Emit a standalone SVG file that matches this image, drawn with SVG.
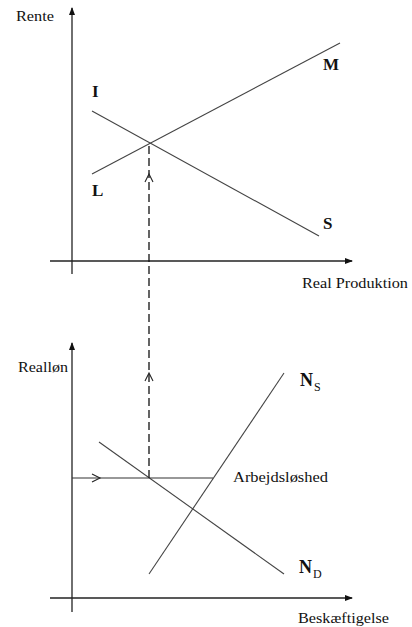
<svg xmlns="http://www.w3.org/2000/svg" width="412" height="627" viewBox="0 0 412 627">
<style>
.ax{stroke:#222;stroke-width:1.3;fill:none}
.cv{stroke:#444;stroke-width:1.1;fill:none}
.ds{stroke:#111;stroke-width:1.3;stroke-dasharray:8,4;fill:none}
.lb{font-family:"Liberation Serif",serif;font-size:15px;fill:#111}
.bl{font-family:"Liberation Serif",serif;font-size:17px;font-weight:bold;fill:#111}
.nn{font-family:"Liberation Serif",serif;font-size:18px;font-weight:bold;fill:#111}
.sb{font-family:"Liberation Serif",serif;font-size:12px;fill:#111}
.ch{stroke:#222;stroke-width:1.1;fill:none}
</style>
<defs>
<marker id="ah" markerWidth="8" markerHeight="8" refX="7" refY="4" orient="auto" markerUnits="userSpaceOnUse">
<path d="M0,1 L8,4 L0,7 Z" fill="#111"/>
</marker>
</defs>
<g id="axes-top">
<line class="ax" x1="72" y1="274" x2="72" y2="8" marker-end="url(#ah)"/>
<line class="ax" x1="50" y1="261" x2="352" y2="261" marker-end="url(#ah)"/>
<text class="lb" x="16" y="21" textLength="38" lengthAdjust="spacingAndGlyphs">Rente</text>
<text class="lb" x="302" y="288" textLength="106" lengthAdjust="spacingAndGlyphs">Real Produktion</text>
</g>
<g id="curve-IS">
<line class="cv" x1="92" y1="111" x2="319" y2="236"/>
<text class="bl" x="92" y="97">I</text>
<text class="bl" x="323" y="229">S</text>
</g>
<g id="curve-LM">
<line class="cv" x1="92" y1="174" x2="340" y2="43"/>
<text class="bl" x="92" y="196">L</text>
<text class="bl" x="323" y="70">M</text>
</g>
<g id="axes-bottom">
<line class="ax" x1="72" y1="612" x2="72" y2="343" marker-end="url(#ah)"/>
<line class="ax" x1="50" y1="598" x2="352" y2="598" marker-end="url(#ah)"/>
<text class="lb" x="18" y="372" textLength="50" lengthAdjust="spacingAndGlyphs">Realløn</text>
<text class="lb" x="298" y="623" textLength="91" lengthAdjust="spacingAndGlyphs">Beskæftigelse</text>
</g>
<g id="curve-ND">
<line class="cv" x1="99" y1="442" x2="284" y2="574"/>
<text class="nn" x="299" y="573">N</text>
<text class="sb" x="313" y="578">D</text>
</g>
<g id="curve-NS">
<line class="cv" x1="284" y1="373" x2="149" y2="574"/>
<text class="nn" x="300" y="386">N</text>
<text class="sb" x="314" y="391">S</text>
</g>
<g id="connectors">
<line class="ds" x1="149" y1="478" x2="149" y2="143"/>
<path class="ch" d="M145,182 L149,174 L153,182"/>
<path class="ch" d="M145,381 L149,373 L153,381"/>
<line class="cv" x1="72" y1="478" x2="213" y2="478" style="stroke:#333"/>
<path class="ch" d="M92,474 L100,478 L92,482"/>
<text class="lb" x="233" y="482" textLength="95" lengthAdjust="spacingAndGlyphs">Arbejdsløshed</text>
</g>
</svg>
